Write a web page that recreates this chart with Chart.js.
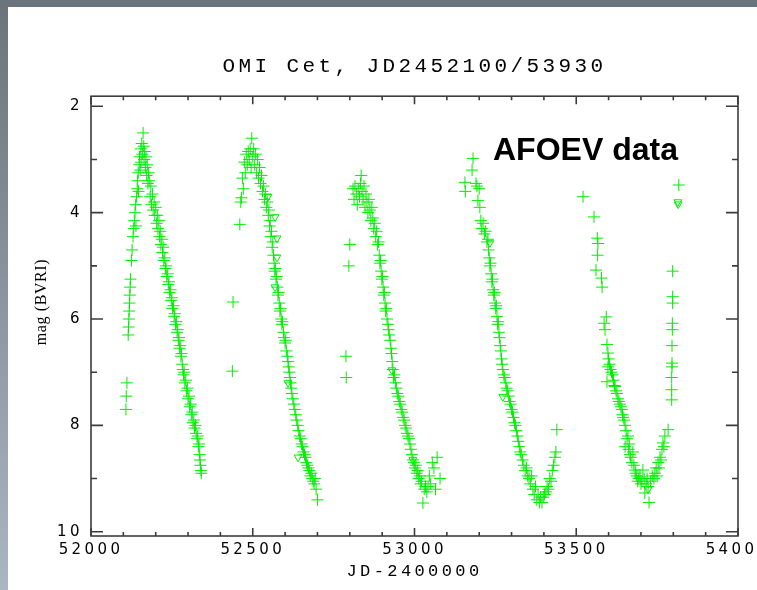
<!DOCTYPE html>
<html>
<head>
<meta charset="utf-8">
<script src="https://cdn.jsdelivr.net/npm/chart.js@4"></script>
<style>
html, body { margin: 0; padding: 0; background: #fff; overflow: hidden; }
canvas { display: block; }
</style>
</head>
<body>
<canvas id="lightCurve" width="790" height="590"></canvas>
<script>
const titleText = 'OMI Cet, JD2452100/53930'
const xTitle = 'JD-2400000'
const yTitle = 'mag (BVRI)'
const xTickValues = [52000, 52500, 53000, 53500, 54000]
const yTickValues = [2, 4, 6, 8, 10]

// [JD-2400000, magnitude], one array per observing season
const season1 = [
  [52108,7.70],[52109,7.45],[52111,7.20],[52115,6.30],[52116,6.15],[52117,6.00],[52118,5.85],[52119,5.70],
  [52120,5.55],[52121,5.40],[52122,5.25],[52125,4.90],[52127,4.70],[52130,4.45],[52132,4.30],[52134,4.15],
  [52136,4.00],[52138,3.85],[52139,4.25],[52141,3.70],[52143,3.55],[52144,3.40],[52146,3.25],[52147,3.60],
  [52149,3.10],[52150,2.95],[52152,3.20],[52154,2.80],[52155,3.05],[52157,2.70],[52159,2.90],[52161,2.50],
  [52163,2.75],[52164,3.00],[52166,2.85],[52168,3.15],[52170,2.95],[52172,3.30],[52174,3.10],[52176,3.45],
  [52178,3.25],[52180,3.40],[52183,3.70],[52185,3.50],[52187,3.85],[52190,3.65],[52192,3.95],[52195,3.80],
  [52197,4.05],[52200,3.90],[52203,4.20],[52205,4.05],[52207,4.30],[52210,4.15],[52212,4.45],[52214,4.35],
  [52216,4.60],[52219,4.50],[52221,4.75],[52223,4.65],[52225,4.90],[52228,4.85],[52230,5.05],[52232,5.00],
  [52234,5.20],[52237,5.15],[52239,5.35],[52241,5.30],[52243,5.50],[52246,5.45],[52248,5.65],[52250,5.60],
  [52252,5.80],[52255,5.75],[52257,5.95],[52259,5.90],[52261,6.10],[52264,6.05],[52266,6.25],[52268,6.20],
  [52270,6.40],[52272,6.35],[52274,6.55],[52276,6.50],[52278,6.70],[52280,6.65],[52282,6.85],[52284,6.95],
  [52286,7.05],[52288,7.00],[52290,7.20],[52293,7.15],[52295,7.35],[52298,7.30],[52300,7.50],[52303,7.45],
  [52305,7.65],[52308,7.60],[52310,7.80],[52313,7.75],[52315,7.95],[52318,7.90],[52320,8.05],[52323,8.00],
  [52325,8.15],[52328,8.25],[52330,8.20],[52332,8.40],[52334,8.35],[52336,8.55],[52337,8.65],[52338,8.75],
  [52340,8.85],[52341,8.90]
]
const season2 = [
  [52437,6.98],[52439,5.68],[52460,4.22],[52463,3.80],[52465,3.72],[52468,3.35],[52471,3.55],[52474,3.05],
  [52477,3.25],[52480,2.90],[52483,3.10],[52486,2.85],[52489,3.00],[52492,2.80],[52495,3.15],[52497,2.60],
  [52500,2.95],[52503,2.80],[52506,3.10],[52509,2.90],[52512,3.25],[52515,3.00],[52518,3.35],[52521,3.15],
  [52524,3.45],[52527,3.30],[52530,3.60],[52533,3.50],[52536,3.75],[52539,3.65],[52542,3.90],[52545,3.80],
  [52548,4.05],[52550,3.95],[52552,4.25],[52554,4.15],[52556,4.45],[52558,4.35],[52560,4.65],[52562,4.55],
  [52564,4.80],[52566,4.95],[52568,5.10],[52570,5.05],[52572,5.25],[52574,5.20],[52576,5.40],[52578,5.55],
  [52580,5.50],[52582,5.70],[52584,5.85],[52586,5.80],[52588,6.00],[52590,6.10],[52592,6.05],[52595,6.25],
  [52597,6.35],[52600,6.45],[52602,6.40],[52604,6.60],[52607,6.70],[52609,6.80],[52611,6.90],[52613,7.00],
  [52615,7.10],[52617,7.20],[52619,7.30],[52621,7.40],[52624,7.50],[52627,7.60],[52630,7.70],[52633,7.80],
  [52636,7.90],[52639,8.00],[52642,8.10],[52645,8.20],[52648,8.25],[52651,8.35],[52654,8.40],[52657,8.50],
  [52660,8.55],[52663,8.60],[52666,8.70],[52669,8.75],[52672,8.80],[52675,8.85],[52678,8.95],[52681,8.90],
  [52684,9.00],[52687,9.05],[52690,9.10],[52693,9.00],[52696,9.20],[52700,9.40]
]
const season3 = [
  [52788,6.70],[52789,7.10],[52797,5.00],[52800,4.60],[52810,3.55],[52813,3.75],[52816,3.50],[52820,3.65],
  [52823,3.85],[52826,3.55],[52830,3.70],[52833,3.45],[52835,3.30],[52838,3.60],[52841,3.75],[52844,3.50],
  [52847,3.90],[52850,3.65],[52853,3.80],[52856,4.00],[52859,3.75],[52862,3.95],[52865,4.15],[52868,3.90],
  [52871,4.10],[52874,4.30],[52877,4.20],[52880,4.45],[52883,4.35],[52886,4.60],[52889,4.55],[52891,4.80],
  [52893,4.95],[52895,4.90],[52897,5.10],[52899,5.25],[52901,5.20],[52903,5.40],[52905,5.55],[52907,5.50],
  [52909,5.70],[52911,5.85],[52913,5.80],[52915,6.00],[52918,6.10],[52920,6.20],[52922,6.30],[52925,6.40],
  [52927,6.55],[52929,6.65],[52931,6.80],[52933,6.95],[52935,7.10],[52938,7.05],[52941,7.20],[52944,7.30],
  [52947,7.40],[52950,7.45],[52953,7.55],[52956,7.60],[52959,7.70],[52962,7.75],[52965,7.85],[52968,7.90],
  [52971,8.00],[52974,8.05],[52977,8.15],[52980,8.20],[52983,8.25],[52986,8.35],[52989,8.45],[52992,8.55],
  [52995,8.65],[52998,8.70],[53001,8.80],[53004,8.75],[53007,8.90],[53010,8.85],[53013,9.00],[53016,8.95],
  [53019,9.10],[53022,9.05],[53026,9.46],[53030,9.20],[53034,9.15],[53038,9.25],[53042,9.15],[53046,8.95],
  [53050,9.10],[53055,8.70],[53060,8.80],[53065,9.20],[53070,8.60],[53079,9.00]
]
const season4 = [
  [53156,3.43],[53157,3.60],[53178,3.20],[53181,2.98],[53190,3.45],[53193,3.50],[53196,3.77],[53200,3.55],
  [53202,3.90],[53205,4.15],[53208,4.30],[53212,4.20],[53216,4.40],[53220,4.35],[53224,4.55],[53227,4.50],
  [53229,4.70],[53231,4.85],[53233,5.00],[53235,4.95],[53237,5.15],[53239,5.30],[53241,5.25],[53243,5.45],
  [53245,5.55],[53247,5.50],[53249,5.70],[53251,5.80],[53253,5.75],[53255,5.95],[53257,6.10],[53259,6.05],
  [53261,6.25],[53263,6.35],[53265,6.50],[53267,6.60],[53269,6.75],[53271,6.85],[53273,6.95],[53276,7.05],
  [53279,7.10],[53282,7.20],[53285,7.30],[53288,7.35],[53291,7.45],[53294,7.55],[53297,7.60],[53300,7.70],
  [53303,7.75],[53306,7.85],[53309,7.95],[53312,8.00],[53315,8.10],[53318,8.20],[53321,8.30],[53324,8.40],
  [53327,8.50],[53330,8.55],[53334,8.65],[53338,8.75],[53342,8.85],[53346,8.80],[53350,8.95],[53354,9.00],
  [53358,9.10],[53362,8.95],[53366,9.20],[53370,9.30],[53374,9.15],[53378,9.40],[53382,9.30],[53386,9.45],
  [53390,9.35],[53394,9.45],[53398,9.35],[53402,9.30],[53406,9.25],[53410,9.15],[53414,9.20],[53418,9.00],
  [53422,9.05],[53426,8.85],[53430,8.75],[53434,8.60],[53437,8.50],[53440,8.08]
]
const season5 = [
  [53521,3.70],[53555,4.08],[53565,4.48],[53567,4.58],[53566,4.80],[53561,5.08],[53578,5.23],[53580,5.40],
  [53593,5.96],[53586,6.08],[53589,6.20],[53595,6.48],[53598,6.64],[53600,6.75],[53603,6.85],[53598,6.90],
  [53606,6.95],[53609,7.00],[53612,7.05],[53615,7.15],[53595,7.18],[53618,7.25],[53620,7.27],[53623,7.35],
  [53626,7.40],[53629,7.50],[53632,7.55],[53635,7.60],[53638,7.65],[53641,7.70],[53643,7.80],[53645,7.85],
  [53648,7.90],[53651,8.00],[53654,8.10],[53657,8.25],[53660,8.20],[53651,8.40],[53664,8.35],[53662,8.45],
  [53666,8.55],[53675,8.50],[53672,8.70],[53668,8.60],[53678,8.75],[53682,8.84],[53684,8.90],[53687,8.95],
  [53690,9.05],[53693,9.00],[53697,8.97],[53700,9.10],[53703,9.05],[53706,8.84],[53710,9.00],[53712,9.27],
  [53716,9.10],[53719,9.00],[53722,9.15],[53725,9.45],[53730,9.05],[53735,8.95],[53740,9.00],[53743,8.90],
  [53747,8.80],[53750,8.95],[53753,8.70],[53756,8.80],[53759,8.60],[53762,8.65],[53765,8.45],[53768,8.33],
  [53771,8.40],[53774,8.20],[53784,8.08],[53795,7.52],[53795,7.33],[53795,7.10],[53796,6.90],[53796,6.83],
  [53796,6.50],[53797,6.20],[53797,6.08],[53798,5.70],[53798,5.58],[53798,5.10],[53817,3.48]
]
// "fainter than" estimates, drawn as open triangles
const fainterThan = [
  [52547,3.70],[52569,4.08],[52575,4.48],[52575,4.84],[52569,5.40],[52609,7.20],[52640,8.60],
  [52930,6.96],[52995,8.65],[53233,4.57],[53273,7.46],[53722,9.20],[53814,3.80],[53815,3.84]
]

const green = '#00ee00'
const monoFont = 'Liberation Mono'
const toPoints = list => list.map(p => ({ x: p[0], y: p[1] }))

// frame, mirrored ticks, side strips, y title and the "AFOEV data" label
const decor = {
  id: 'decor',
  beforeDraw(chart) {
    const c = chart.ctx
    c.save()
    c.fillStyle = '#fff'
    c.fillRect(0, 0, chart.width, chart.height)
    const g = c.createLinearGradient(0, 0, 0, chart.height)
    g.addColorStop(0, '#6b737b')
    g.addColorStop(1, '#aab6c2')
    c.fillStyle = g
    c.fillRect(0, 0, 8, chart.height)
    c.fillStyle = '#6b737b'
    c.fillRect(0, 0, chart.width, 7)
    c.restore()
    c.letterSpacing = '3.4px' // title
  },
  beforeDatasetsDraw(chart) { chart.ctx.letterSpacing = '0px' },
  afterDatasetsDraw(chart) { chart.ctx.letterSpacing = '2px' }, // axis labels
  afterDraw(chart) {
    const c = chart.ctx
    const a = chart.chartArea
    const xs = chart.scales.x
    const ys = chart.scales.y
    c.save()
    c.letterSpacing = '0px'
    c.strokeStyle = '#3c3c3c'
    c.lineWidth = 1.6
    c.strokeRect(a.left, a.top, a.right - a.left, a.bottom - a.top)
    c.beginPath()
    for (let v = 52000; v <= 54000; v += 100) {
      const px = xs.getPixelForValue(v)
      const len = v % 500 === 0 ? 8 : 4
      c.moveTo(px, a.bottom); c.lineTo(px, a.bottom - len)
      c.moveTo(px, a.top); c.lineTo(px, a.top + len)
    }
    for (let m = 2; m <= 10; m++) {
      const py = ys.getPixelForValue(m)
      const len = m % 2 === 0 ? 12 : 6
      c.moveTo(a.left, py); c.lineTo(a.left + len, py)
      c.moveTo(a.right, py); c.lineTo(a.right - len, py)
    }
    c.stroke()

    c.fillStyle = '#000'
    c.save()
    c.translate(42, 302)
    c.rotate(-Math.PI / 2)
    c.font = '16px "Liberation Serif", serif'
    c.letterSpacing = '0.6px'
    c.textAlign = 'center'
    c.textBaseline = 'middle'
    c.fillText(yTitle, 0, 0)
    c.restore()

    c.font = 'bold 32px "Liberation Sans", Arial, sans-serif'
    c.textBaseline = 'alphabetic'
    c.textAlign = 'left'
    c.fillText('AFOEV data', 493, 160)
    c.restore()
  }
}

const ctx = document.getElementById('lightCurve')
new Chart(ctx, {
  type: 'scatter',
  data: {
    datasets: [{
      label: 'mag',
      data: toPoints([...season1, ...season2, ...season3, ...season4, ...season5]),
      pointStyle: 'cross',
      pointRadius: 6,
      pointHoverRadius: 6,
      borderWidth: 1,
      borderColor: green,
      backgroundColor: green
    }, {
      label: 'fainter than',
      data: toPoints(fainterThan),
      pointStyle: 'triangle',
      rotation: 180,
      pointRadius: 4.5,
      pointHoverRadius: 4.5,
      borderWidth: 1,
      borderColor: green,
      backgroundColor: 'rgba(0,0,0,0)'
    }]
  },
  options: {
    responsive: false,
    animation: false,
    devicePixelRatio: 1,
    events: [],
    layout: { padding: { left: 8, right: 52, top: 0, bottom: 0 } },
    plugins: {
      legend: { display: false },
      tooltip: { enabled: false },
      title: {
        display: true,
        fullSize: false,
        text: titleText,
        color: '#000',
        font: { family: monoFont, size: 21, weight: 'normal' },
        padding: { top: 54, bottom: 17 }
      }
    },
    scales: {
      x: {
        type: 'linear',
        min: 52000,
        max: 54000,
        z: 1,
        grid: { display: false, drawTicks: false },
        border: { display: false },
        afterBuildTicks: s => { s.ticks = xTickValues.map(v => ({ value: v })) },
        afterFit: s => { s.height = 54 },
        ticks: {
          color: '#000',
          font: { family: 'DejaVu Sans', size: 15 },
          padding: 5,
          maxRotation: 0,
          autoSkip: false,
          callback: v => String(v)
        },
        title: {
          display: true,
          text: xTitle,
          color: '#000',
          font: { family: monoFont, size: 17 },
          padding: { top: 0, bottom: 8 }
        }
      },
      y: {
        type: 'linear',
        reverse: true,
        min: 1.81,
        max: 10.08,
        z: 1,
        grid: { display: false, drawTicks: false },
        border: { display: false },
        afterBuildTicks: s => { s.ticks = yTickValues.map(v => ({ value: v })) },
        afterFit: s => { s.width = 83 },
        ticks: {
          color: '#000',
          font: { family: 'DejaVu Sans', size: 15 },
          padding: 8,
          autoSkip: false,
          callback: v => String(v)
        }
      }
    }
  },
  plugins: [decor]
})
</script>
</body>
</html>
